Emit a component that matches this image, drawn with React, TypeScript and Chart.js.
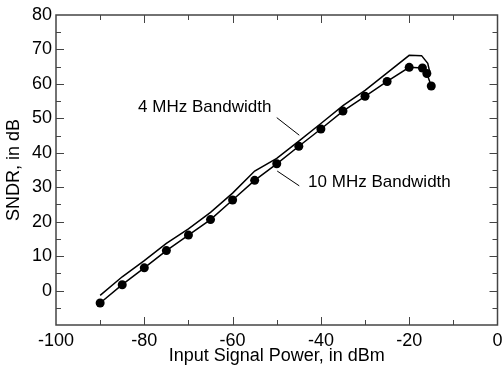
import React, { useEffect, useRef } from 'react';
import { Chart, registerables } from 'chart.js';

Chart.register(...registerables);

// Input signal power (dBm) and SNDR (dB)
const power10MHz = [-90, -85, -80, -75, -70, -65, -60, -55, -50, -45, -40, -35, -30, -25, -20, -17, -16, -15];
const sndr10MHz = [-3.6, 1.7, 6.6, 11.6, 16.1, 20.6, 26.3, 32.0, 36.8, 41.9, 46.9, 52.1, 56.4, 60.7, 64.8, 64.6, 63.0, 59.4];

const power4MHz = [-90, -85, -80, -75, -70, -65, -60, -55, -50, -45, -40, -35, -30, -25, -20, -17.2, -15.8, -15.3];
const sndr4MHz = [-1.4, 4.0, 8.7, 13.7, 17.9, 22.7, 28.3, 34.7, 38.4, 43.4, 48.5, 53.7, 58.1, 63.2, 68.3, 68.2, 66.0, 63.2];

const xRange = [-100, 0];
const yRange = [-10, 80];
const xLabelStep = 20;
const yLabelStep = 10;

const label4 = '4 MHz Bandwidth';
const label10 = '10 MHz Bandwidth';
// annotation anchor points in data units
const label4Pos = { x: -81.4, y: 53.2 };
const label10Pos = { x: -42.9, y: 31.4 };
const leader4 = [{ x: -50.0, y: 50.2 }, { x: -44.9, y: 45.1 }];
const leader10 = [{ x: -49.9, y: 34.7 }, { x: -44.9, y: 30.4 }];

const FONT = '"Liberation Sans", Arial, Helvetica, sans-serif';

const framePlugin = {
  id: 'frameTicks',
  afterDatasetsDraw(chart: any) {
    const { ctx, chartArea: a, scales } = chart;
    const xs = scales.x;
    const ys = scales.y;
    ctx.save();
    ctx.strokeStyle = '#444';
    ctx.lineWidth = 1.5;
    ctx.strokeRect(a.left, a.top, a.right - a.left, a.bottom - a.top);
    ctx.lineWidth = 1;
    ctx.beginPath();
    for (let v = xRange[0] + 10; v < xRange[1]; v += 10) {
      const px = Math.round(xs.getPixelForValue(v)) + 0.5;
      const len = v % 20 === 0 ? 8 : 5;
      ctx.moveTo(px, a.bottom);
      ctx.lineTo(px, a.bottom - len);
      ctx.moveTo(px, a.top);
      ctx.lineTo(px, a.top + len);
    }
    for (let v = yRange[0] + 5; v < yRange[1]; v += 5) {
      const py = Math.round(ys.getPixelForValue(v)) + 0.5;
      const len = v % 10 === 0 ? 8 : 5;
      ctx.moveTo(a.left, py);
      ctx.lineTo(a.left + len, py);
      ctx.moveTo(a.right, py);
      ctx.lineTo(a.right - len, py);
    }
    ctx.stroke();

    ctx.fillStyle = '#000';
    ctx.font = `17px ${FONT}`;
    ctx.textAlign = 'left';
    ctx.textBaseline = 'middle';
    ctx.fillText(label4, xs.getPixelForValue(label4Pos.x), ys.getPixelForValue(label4Pos.y));
    ctx.fillText(label10, xs.getPixelForValue(label10Pos.x), ys.getPixelForValue(label10Pos.y));
    ctx.restore();
  },
};

export default function App() {
  const ref = useRef<HTMLCanvasElement | null>(null);

  useEffect(() => {
    if (!ref.current) return;
    const d10 = power10MHz.map((x, i) => ({ x, y: sndr10MHz[i] }));
    const d4 = power4MHz.map((x, i) => ({ x, y: sndr4MHz[i] }));
    const chart = new Chart(ref.current, {
      type: 'line',
      data: {
        datasets: [
          {
            label: label10,
            data: d10,
            borderColor: '#000',
            backgroundColor: '#000',
            borderWidth: 1.5,
            pointRadius: 4.5,
            pointBorderWidth: 0,
            tension: 0,
          },
          {
            label: label4,
            data: d4,
            borderColor: '#000',
            borderWidth: 1.5,
            pointRadius: 0,
            tension: 0,
          },
          {
            label: 'leader4',
            data: leader4,
            borderColor: '#000',
            borderWidth: 1,
            pointRadius: 0,
          },
          {
            label: 'leader10',
            data: leader10,
            borderColor: '#000',
            borderWidth: 1,
            pointRadius: 0,
          },
        ],
      },
      options: {
        animation: false,
        responsive: false,
        maintainAspectRatio: false,
        layout: { padding: { top: 15, right: 4, left: 0, bottom: 0 } },
        plugins: { legend: { display: false }, tooltip: { enabled: false } },
        scales: {
          x: {
            type: 'linear',
            min: xRange[0],
            max: xRange[1],
            ticks: {
              stepSize: xLabelStep,
              color: '#000',
              font: { family: FONT, size: 18 },
              padding: 5,
              maxRotation: 0,
            },
            grid: { display: false, drawTicks: false },
            border: { display: false },
            title: {
              display: true,
              text: 'Input Signal Power, in dBm',
              color: '#000',
              font: { family: FONT, size: 18 },
              padding: { top: 0, bottom: 0 },
            },
            afterFit: (s: any) => {
              s.height = 42;
              s.paddingRight = 4.5;
              s.paddingLeft = 0;
            },
          },
          y: {
            type: 'linear',
            min: yRange[0],
            max: yRange[1],
            ticks: {
              stepSize: yLabelStep,
              color: '#000',
              font: { family: FONT, size: 18 },
              padding: 4,
              callback: (v: any) => (v === yRange[0] ? '' : String(v)),
            },
            grid: { display: false, drawTicks: false },
            border: { display: false },
            title: {
              display: true,
              text: 'SNDR, in dB',
              color: '#000',
              font: { family: FONT, size: 18 },
              padding: { top: 3, bottom: 0 },
            },
            afterFit: (s: any) => {
              s.width = 56;
            },
          },
        },
      },
      plugins: [framePlugin],
    });
    return () => chart.destroy();
  }, []);

  return (
    <div style={{ position: 'fixed', left: 0, top: 0, width: 502, height: 367, background: '#fff' }}>
      <canvas ref={ref} width={502} height={367} style={{ display: 'block' }} />
    </div>
  );
}
